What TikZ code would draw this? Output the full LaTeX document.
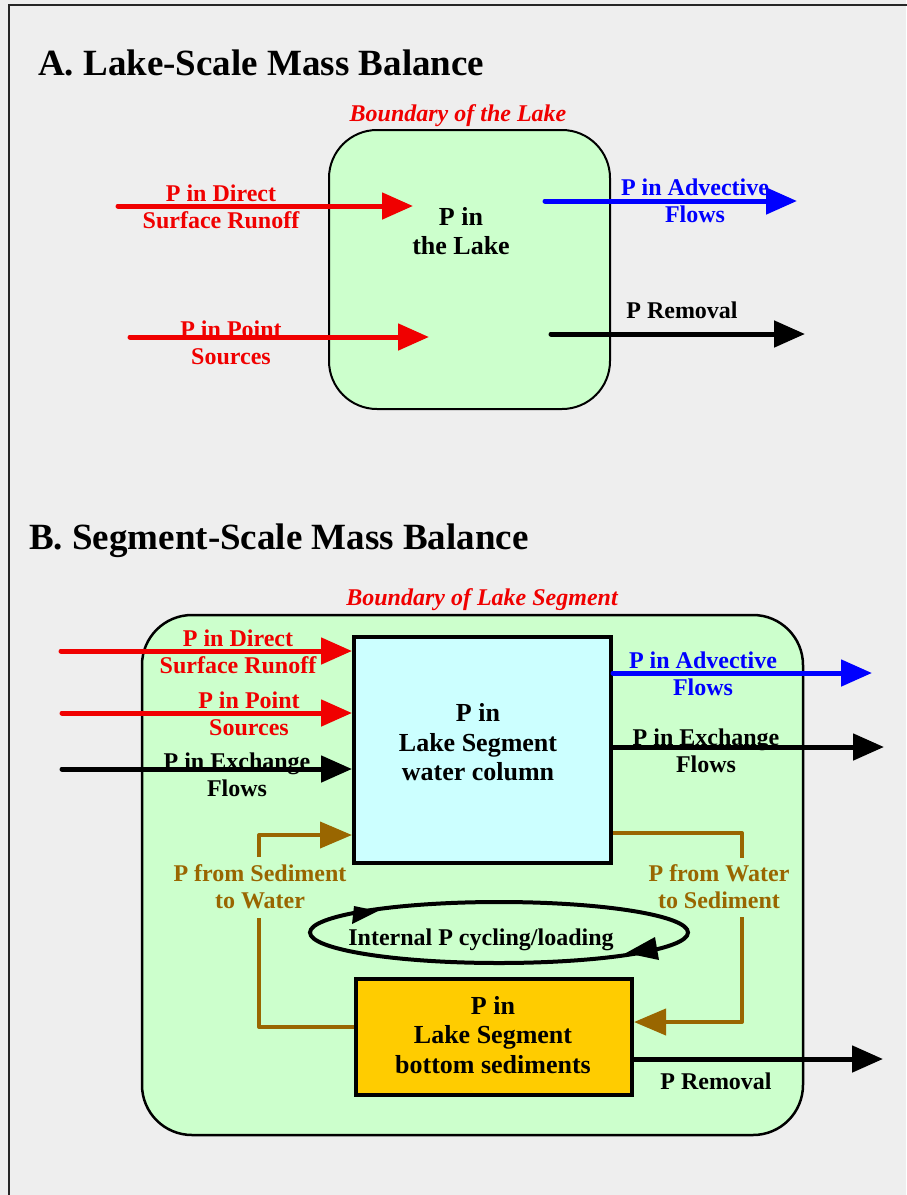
\documentclass[tikz,border=0pt]{standalone}
\usepackage{fontspec}
\setmainfont{Liberation Serif}
\usetikzlibrary{arrows.meta,shapes.geometric}
\definecolor{bgc}{HTML}{EEEEEE}
\definecolor{lakegreen}{HTML}{CCFFCC}
\definecolor{wcol}{HTML}{CCFFFF}
\definecolor{sedcol}{HTML}{FFCC00}
\definecolor{bred}{HTML}{F00000}
\definecolor{bblue}{HTML}{0000FF}
\definecolor{brn}{HTML}{996600}
\begin{document}
\begin{tikzpicture}[x=1pt,y=-1pt,
  lbl/.style={font=\bfseries\fontsize{24}{27}\selectfont, align=center, inner sep=0pt},
  boxtxt/.style={font=\bfseries\fontsize{26}{29.5}\selectfont, align=center, inner sep=0pt},
  ttl/.style={font=\bfseries\fontsize{37}{40}\selectfont, anchor=base west, inner sep=0pt},
  bnd/.style={font=\bfseries\itshape\fontsize{24}{27}\selectfont, text=bred, anchor=base, inner sep=0pt},
  flow/.style={line width=5pt, line cap=round, -{Triangle[length=31pt,width=26pt]}},
  brline/.style={brn, line width=4pt, line join=round},
  brtip/.style={-{Triangle[length=32pt,width=26pt]}}]
\useasboundingbox (0,0) rectangle (906,1195);
\fill[bgc] (0,0) rectangle (906,1195);
% outer frame (left and top edges)
\coordinate (fr1) at (8.5,1197);
\coordinate (fr2) at (8.5,4.5);
\coordinate (fr3) at (908,4.5);
\draw[line width=2pt, black!85] (fr1) -- (fr2) -- (fr3);

% ---------------- A. lake scale ----------------
\node[ttl] (titleA) at (38,75) {A. Lake-Scale Mass Balance};
\node[bnd] (bndA) at (458,121) {Boundary of the Lake};
\node[draw, line width=2pt, fill=lakegreen, rounded corners=48pt,
      minimum width=281pt, minimum height=279pt, inner sep=0pt] (lake) at (469.5,269.5) {};
\node[boxtxt] (lakeTxt) at (461,231) {P in\\the Lake};

\coordinate (dA0) at (118,206); \coordinate (dA1) at (413,206);
\coordinate (pA0) at (130,337); \coordinate (pA1) at (429,337);
\coordinate (aA0) at (545,201); \coordinate (aA1) at (797,201);
\coordinate (rA0) at (551,334); \coordinate (rA1) at (805,334);
\draw[flow, bred] (dA0) -- (dA1);
\draw[flow, bred] (pA0) -- (pA1);
\draw[flow, bblue] (aA0) -- (aA1);
\draw[flow] (rA0) -- (rA1);

\node[lbl, text=bred] (dAl) at (221,206.5) {P in Direct\\Surface Runoff};
\node[lbl, text=bred] (pAl) at (231,342.5) {P in Point\\Sources};
\node[lbl, text=bblue] (aAl) at (695,201) {P in Advective\\Flows};
\node[lbl, anchor=base] (rAl) at (682,318) {P Removal};

% ---------------- B. segment scale ----------------
\node[ttl] (titleB) at (29,549) {B. Segment-Scale Mass Balance};
\node[bnd] (bndB) at (482,605) {Boundary of Lake Segment};
\node[draw, line width=2.5pt, fill=lakegreen, rounded corners=50pt,
      minimum width=661pt, minimum height=520pt, inner sep=0pt] (seg) at (472.5,875) {};
\node[draw, line width=4pt, fill=wcol, minimum width=257pt, minimum height=226pt,
      inner sep=0pt] (wc) at (482.5,750) {};
\node[boxtxt] (wcTxt) at (478,742.5) {P in\\Lake Segment\\water column};
\node[draw, line width=4pt, fill=sedcol, minimum width=276pt, minimum height=116pt,
      inner sep=0pt] (sed) at (494,1037) {};
\node[boxtxt] (sedTxt) at (493,1035) {P in\\Lake Segment\\bottom sediments};

% exchange between sediment and water column
\coordinate (sA) at (259,857); \coordinate (sB) at (259,835);
\coordinate (sC) at (259,918); \coordinate (sD) at (259,1027);
\draw[brline, brtip] (sA) -- (sB) -- (sB -| wc.west);
\draw[brline] (sD -| sed.west) -- (sD) -- (sC);
\coordinate (wA) at (742,833); \coordinate (wB) at (742,858);
\coordinate (wC) at (742,917); \coordinate (wD) at (742,1022);
\draw[brline] (wA -| wc.east) -- (wA) -- (wB);
\draw[brline, brtip] (wC) -- (wD) -- (wD -| sed.east);

% internal cycling loop
\node[draw, ellipse, line width=4pt, minimum width=378pt, minimum height=61pt,
      inner sep=0pt] (loop) at (499,932.5) {};
\fill (354,906) -- (378,911) -- (352,924) -- cycle;
\fill (655,937) -- (659,960) -- (626,953) -- cycle;
\node[lbl, anchor=base] (loopTxt) at (481,945) {Internal P cycling/loading};

% flows into and out of the water column
\coordinate (dB0) at (61,651);
\coordinate (pB0) at (62,713);
\coordinate (xB0) at (62,769);
\coordinate (aB1) at (872,673);
\coordinate (xB1) at (884,747);
\coordinate (rB1) at (883,1059);
\draw[flow, bred] (dB0) -- (dB0 -| wc.west);
\draw[flow, bred] (pB0) -- (pB0 -| wc.west);
\draw[flow] (xB0) -- (xB0 -| wc.west);
\draw[flow, bblue] (aB1 -| wc.east) -- (aB1);
\draw[flow] (xB1 -| wc.east) -- (xB1);
\draw[flow] (rB1 -| sed.east) -- (rB1);

\node[lbl, text=bred] (dBl) at (238,651.5) {P in Direct\\Surface Runoff};
\node[lbl, text=bred] (pBl) at (249,714) {P in Point\\Sources};
\node[lbl] (xBl) at (237,775) {P in Exchange\\Flows};
\node[lbl, text=bblue] (aBl) at (703,674) {P in Advective\\Flows};
\node[lbl] (xBr) at (706,750.5) {P in Exchange\\Flows};
\node[lbl, anchor=base] (rBl) at (716,1089) {P Removal};
\node[lbl, text=brn] (s2w) at (260,887) {P from Sediment\\to Water};
\node[lbl, text=brn] (w2s) at (719,887) {P from Water\\to Sediment};
\end{tikzpicture}
\end{document}
